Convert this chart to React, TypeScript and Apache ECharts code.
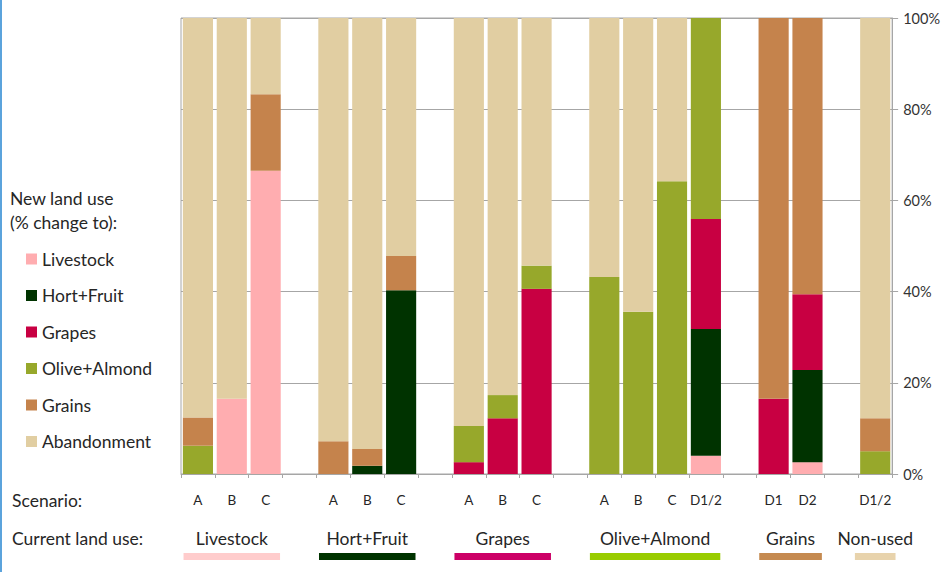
import React, { useEffect, useRef } from "react";
import * as echarts from "echarts";

// Scenario labels along the bottom axis; "" marks a spacer slot between groups.
const scenarios = ["A", "B", "C", "", "A", "B", "C", "", "A", "B", "C", "", "A", "B", "C", "D1/2", "", "D1", "D2", "", "D1/2"];

// Current land use groups: label, first slot, last slot.
const groupNames = ["Livestock", "Hort+Fruit", "Grapes", "Olive+Almond", "Grains", "Non-used"];
const groupStart = [0, 4, 8, 12, 17, 20];
const groupEnd = [2, 6, 10, 15, 18, 20];
const groupColors = ["#FFCCCC", "#003300", "#CC0066", "#99CC00", "#C58A50", "#E8D3AC"];

// New land use (% change to), one value per slot.
const seriesNames = ["Livestock", "Hort+Fruit", "Grapes", "Olive+Almond", "Grains", "Abandonment"];
const seriesColors = ["#FFADB0", "#003300", "#C80042", "#97A82B", "#C5834C", "#E1CEA2"];

const livestock = [0, 16.5, 66.5, null, 0, 0, 0, null, 0, 0, 0, null, 0, 0, 0, 4.0, null, 0, 2.6, null, 0];
const hortFruit = [0, 0, 0, null, 0, 1.8, 40.3, null, 0, 0, 0, null, 0, 0, 0, 27.8, null, 0, 20.2, null, 0];
const grapes = [0, 0, 0, null, 0, 0, 0, null, 2.6, 12.2, 40.6, null, 0, 0, 0, 24.1, null, 16.5, 16.6, null, 0];
const oliveAlmond = [6.2, 0, 0, null, 0, 0, 0, null, 7.9, 5.1, 5.1, null, 43.2, 35.6, 64.2, 44.1, null, 0, 0, null, 5.0];
const grains = [6.2, 0, 16.8, null, 7.2, 3.7, 7.5, null, 0, 0, 0, null, 0, 0, 0, 0, null, 83.5, 60.6, null, 7.2];
const abandonment = [87.6, 83.5, 16.7, null, 92.8, 94.5, 52.2, null, 89.5, 82.7, 54.3, null, 56.8, 64.4, 35.8, 0, null, 0, 0, null, 87.8];

const seriesValues = [livestock, hortFruit, grapes, oliveAlmond, grains, abandonment];

// Right-hand percentage axis.
const yMin = 0;
const yMax = 100;
const yStep = 20;

const FONT = "Lato, 'Liberation Sans', sans-serif";
const TEXT = "#262626";
const AXIS = "#A6A6A6";
const BIG = 17.5;

export default function App() {
  const ref = useRef<HTMLDivElement>(null);

  useEffect(() => {
    if (!ref.current) return;
    const chart = echarts.init(ref.current, null, { renderer: "svg" });

    const slotKeys = scenarios.map((s, i) => `${i}|${s}`);

    chart.setOption({
      animation: false,
      textStyle: { fontFamily: FONT },
      grid: {
        left: 181,
        right: 50,
        top: 18,
        bottom: 98,
        show: true,
        borderColor: AXIS,
        borderWidth: 1,
        backgroundColor: "transparent",
      },
      legend: {
        orient: "vertical",
        left: 26,
        top: 250,
        padding: 0,
        itemWidth: 11,
        itemHeight: 11,
        itemGap: 18.5,
        icon: "rect",
        selectedMode: false,
        textStyle: { fontSize: BIG, color: TEXT, fontFamily: FONT },
        data: seriesNames,
      },
      xAxis: {
        type: "category",
        data: slotKeys,
        boundaryGap: true,
        axisLine: { show: true, lineStyle: { color: AXIS } },
        axisTick: { show: true, interval: 0, length: 4, lineStyle: { color: AXIS } },
        axisLabel: {
          interval: 0,
          margin: 19,
          fontSize: 13.5,
          color: TEXT,
          fontFamily: FONT,
          formatter: (v: string) => v.split("|")[1],
        },
        splitLine: { show: false },
      },
      yAxis: {
        type: "value",
        position: "right",
        min: yMin,
        max: yMax,
        interval: yStep,
        axisLine: { show: true, lineStyle: { color: AXIS } },
        axisTick: { show: true, length: 6, lineStyle: { color: AXIS } },
        axisLabel: { formatter: "{value}%", fontSize: 14.5, color: "#333333", margin: 11, fontFamily: FONT },
        splitLine: { show: true, lineStyle: { color: AXIS, width: 1 } },
      },
      series: seriesNames.map((name, i) => ({
        name,
        type: "bar",
        stack: "landuse",
        barCategoryGap: "11%",
        itemStyle: { color: seriesColors[i] },
        data: seriesValues[i],
      })),
    });

    // Text and group markers positioned from the category axis scale.
    const px = (i: number) => chart.convertToPixel({ xAxisIndex: 0 }, i) as number;
    const band = px(1) - px(0);
    const labelY = 538;
    const barY = 553;

    const groupGraphics: any[] = [];
    groupNames.forEach((g, k) => {
      const a = px(groupStart[k]);
      const b = px(groupEnd[k]);
      const n = groupEnd[k] - groupStart[k] + 1;
      const cx = (a + b) / 2;
      const w = n === 1 ? band * 1.2 : (n - 1) * band + band * 0.85;
      groupGraphics.push({
        type: "text",
        x: cx,
        y: labelY,
        style: { text: g, fontSize: BIG, fill: TEXT, fontFamily: FONT, align: "center", verticalAlign: "middle" },
      });
      groupGraphics.push({
        type: "rect",
        shape: { x: cx - w / 2, y: barY, width: w, height: 7 },
        style: { fill: groupColors[k] },
      });
    });

    chart.setOption({
      graphic: [
        { type: "rect", shape: { x: 0, y: 0, width: 2, height: 572 }, style: { fill: "#5BA3DC" } },
        {
          type: "text",
          x: 10,
          y: 198,
          style: { text: "New land use", fontSize: BIG, fill: TEXT, fontFamily: FONT, verticalAlign: "middle" },
        },
        {
          type: "text",
          x: 10,
          y: 222,
          style: { text: "(% change to):", fontSize: BIG, fill: TEXT, fontFamily: FONT, verticalAlign: "middle" },
        },
        {
          type: "text",
          x: 12,
          y: 500,
          style: { text: "Scenario:", fontSize: BIG, fill: TEXT, fontFamily: FONT, verticalAlign: "middle" },
        },
        {
          type: "text",
          x: 12,
          y: labelY,
          style: { text: "Current land use:", fontSize: BIG, fill: TEXT, fontFamily: FONT, verticalAlign: "middle" },
        },
        ...groupGraphics,
      ],
    });

    return () => chart.dispose();
  }, []);

  return (
    <div
      ref={ref}
      style={{ position: "fixed", left: 0, top: 0, width: 943, height: 572, background: "#ffffff" }}
    />
  );
}
